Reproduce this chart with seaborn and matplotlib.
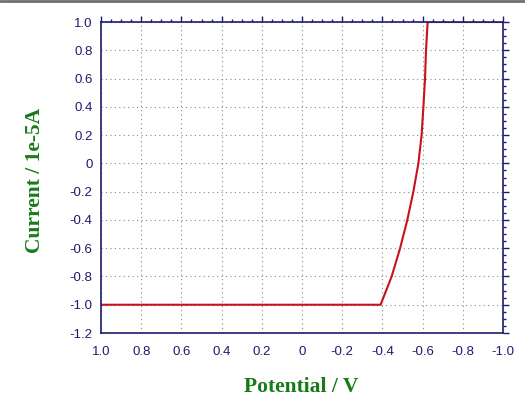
import matplotlib
matplotlib.use("Agg")
import matplotlib.pyplot as plt
from matplotlib.ticker import MultipleLocator, FixedLocator
import pandas as pd
import seaborn as sns

# values
potential = [1.0, -0.391, -0.446, -0.488, -0.524, -0.554, -0.579, -0.595,
             -0.604, -0.612, -0.617, -0.625, -1.0]
current = [-1.0, -1.0, -0.8, -0.6, -0.4, -0.2, 0.0, 0.2, 0.4, 0.6, 0.8,
           1.0, 1.0]

x_ticks = [1.0, 0.8, 0.6, 0.4, 0.2, 0.0, -0.2, -0.4, -0.6, -0.8, -1.0]
x_labels = ["1.0", "0.8", "0.6", "0.4", "0.2", "0", "-0.2", "-0.4", "-0.6",
            "-0.8", "-1.0"]
y_ticks = [1.0, 0.8, 0.6, 0.4, 0.2, 0.0, -0.2, -0.4, -0.6, -0.8, -1.0, -1.2]
y_labels = ["1.0", "0.8", "0.6", "0.4", "0.2", "0", "-0.2", "-0.4", "-0.6",
            "-0.8", "-1.0", "-1.2"]

df = pd.DataFrame({"Potential": potential, "Current": current})

sns.set_theme(style="white")
plt.rcParams["font.family"] = ["Liberation Sans", "DejaVu Sans"]

navy = "#1c1c6c"
green = "#1a7a1a"

fig = plt.figure(figsize=(5.25, 4.04), dpi=100)
ax = fig.add_axes([0.1924, 0.1757, 0.7657, 0.7698])

sns.lineplot(data=df, x="Potential", y="Current", sort=False, estimator=None,
             color="#c8101e", linewidth=1.5, ax=ax)

ax.set_xlim(1.0, -1.0)
ax.set_ylim(-1.2, 1.0)
ax.xaxis.set_major_locator(FixedLocator(x_ticks))
ax.set_xticklabels(x_labels)
ax.yaxis.set_major_locator(FixedLocator(y_ticks))
ax.set_yticklabels(y_labels)
ax.xaxis.set_minor_locator(MultipleLocator(0.05))
ax.yaxis.set_minor_locator(MultipleLocator(0.05))

ax.tick_params(which="both", direction="out", colors=navy, top=True,
               right=True, labeltop=False, labelright=False, labelsize=9.5,
               labelcolor=navy, width=1)
ax.tick_params(which="major", length=4)
ax.tick_params(which="minor", length=2)
ax.tick_params(axis="x", which="major", pad=5)
ax.tick_params(axis="y", which="major", pad=2)
for s in ax.spines.values():
    s.set_color(navy)
    s.set_linewidth(1.2)

ax.grid(True, which="major", linestyle=(0, (1, 3)), color="#888888",
        linewidth=0.8)
ax.set_xlabel("")
ax.set_ylabel("")

fig.text(0.574, 0.041, "Potential / V", ha="center", va="center",
         family="Liberation Serif", fontweight="bold", fontsize=15.5,
         color=green)
fig.text(0.066, 0.553, "Current / 1e-5A", ha="center", va="center",
         rotation=90, family="Liberation Serif", fontweight="bold",
         fontsize=15.5, color=green)

# thin gray frame line along the top edge
fig.add_artist(plt.Line2D([0, 1], [0.998, 0.998], color="#707070",
                          linewidth=2, transform=fig.transFigure))

fig.savefig("out.png", dpi=100)
